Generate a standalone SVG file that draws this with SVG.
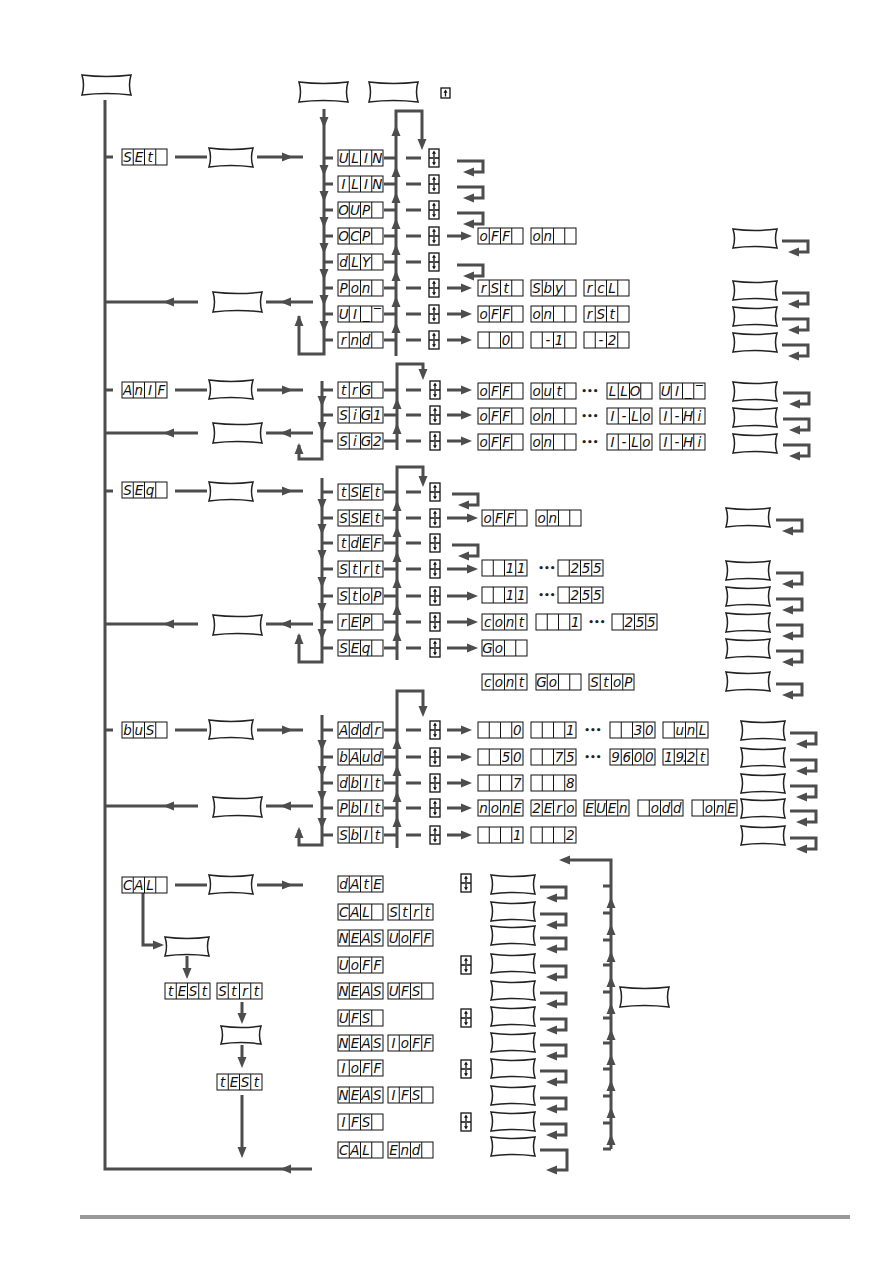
<svg xmlns="http://www.w3.org/2000/svg" width="893" height="1263" viewBox="0 0 893 1263">
<style>
.ln{fill:none;stroke:#4d4d4d;stroke-width:3}
.ah{fill:#4d4d4d}
.bt{fill:#fff;stroke:#222;stroke-width:1.5}
.dc{fill:#fff;stroke:#111;stroke-width:1}
.sg{font-family:"DejaVu Sans","Liberation Sans",sans-serif;font-style:italic;font-size:13.5px;fill:#111;text-anchor:middle}
.dt{font-family:"DejaVu Sans","Liberation Sans",sans-serif;font-size:9px;font-weight:bold;fill:#222;text-anchor:middle}
</style>
<defs>
<path id="b44" class="bt" d="M0,0 Q22,3 44,0 Q41,9.5 44,19 Q22,16 0,19 Q3,9.5 0,0Z"/>
<path id="b49" class="bt" d="M0,0 Q24.5,3 49,0 Q46,10 49,20 Q24.5,17 0,20 Q3,10 0,0Z"/>
<path id="b40" class="bt" d="M0,0 Q20,3 40,0 Q37,9 40,18 Q20,15 0,18 Q3,9 0,0Z"/>
<g id="d4"><rect class="dc" width="45" height="16"/><path class="dc" d="M11.25,0V16M22.5,0V16M33.75,0V16"/></g>
<path id="tR" class="ah" d="M0,0 L-11,-4.5 L-11,4.5Z"/>
<path id="tL" class="ah" d="M0,0 L11,-4.5 L11,4.5Z"/>
<path id="tD" class="ah" d="M0,0 L-4.5,-11 L4.5,-11Z"/>
<path id="tU" class="ah" d="M0,0 L-4.5,11 L4.5,11Z"/>
<g id="hk"><path class="ln" d="M0,0H26V11H17"/><use href="#tL" x="6" y="11"/></g>
<g id="ud"><rect width="10" height="18" fill="#fff" stroke="#111" stroke-width="1.3"/><path d="M0,9H10M5,3V8M5,10V15" stroke="#111" stroke-width="1.3"/><path d="M5,1.5L3,4.8H7Z M5,16.5L3,13.2H7Z" fill="#111"/></g>
</defs>
<rect width="893" height="1263" fill="#fff"/>

<g id="connectors">
<path class="ln" d="M105,100V1169H312 M105,157H113 M105,390H113 M105,491H113 M105,730H113"/>
<use href="#tL" x="280" y="1169"/>
<!-- SET -->
<path class="ln" d="M175,157H207 M257,157H303 M324,109V354H299V316 M396,356V111H422V140
M324,158H333 M324,184H333 M324,210H333 M324,236H333 M324,262H333 M324,288H333 M324,314H333 M324,340H333
M384,158H396 M384,184H396 M384,210H396 M384,236H396 M384,262H396 M384,288H396 M384,314H396 M384,340H396
M406,158H421 M406,184H421 M406,210H421 M406,236H421 M406,262H421 M406,288H421 M406,314H421 M406,340H421
M447,236H466 M447,288H466 M447,314H466 M447,340H466
M313,302H266 M198,302H105"/>
<use href="#tR" x="293" y="157"/><use href="#tU" x="299" y="315"/><use href="#tD" x="422" y="150"/>
<use href="#tD" x="324" y="128"/><use href="#tD" x="324" y="176"/><use href="#tD" x="324" y="202"/><use href="#tD" x="324" y="228"/><use href="#tD" x="324" y="254"/><use href="#tD" x="324" y="280"/><use href="#tD" x="324" y="306"/><use href="#tD" x="324" y="332"/>
<use href="#tU" x="396" y="125"/><use href="#tU" x="396" y="166"/><use href="#tU" x="396" y="192"/><use href="#tU" x="396" y="218"/><use href="#tU" x="396" y="244"/><use href="#tU" x="396" y="270"/><use href="#tU" x="396" y="296"/><use href="#tU" x="396" y="322"/>
<use href="#tR" x="472" y="236"/><use href="#tR" x="472" y="288"/><use href="#tR" x="472" y="314"/><use href="#tR" x="472" y="340"/>
<use href="#tL" x="280" y="302"/><use href="#tL" x="163" y="302"/>
<use href="#hk" x="457" y="161"/><use href="#hk" x="457" y="187"/><use href="#hk" x="457" y="213"/><use href="#hk" x="457" y="265"/>
<use href="#hk" x="782" y="241"/><use href="#hk" x="782" y="293"/><use href="#hk" x="782" y="319"/><use href="#hk" x="782" y="345"/>
<!-- AnIF -->
<path class="ln" d="M175,390H207 M257,390H303 M322,381V459H299V445 M397,450V364H423V370
M322,390H333 M322,415H333 M322,441H333 M384,390H397 M384,415H397 M384,441H397
M406,390H421 M406,415H421 M406,441H421 M447,390H466 M447,415H466 M447,441H466
M313,433H266 M198,433H105"/>
<use href="#tR" x="293" y="390"/><use href="#tU" x="299" y="443"/><use href="#tD" x="423" y="380"/>
<use href="#tD" x="322" y="407"/><use href="#tD" x="322" y="433"/>
<use href="#tU" x="397" y="398"/><use href="#tU" x="397" y="423"/>
<use href="#tR" x="472" y="390"/><use href="#tR" x="472" y="415"/><use href="#tR" x="472" y="441"/>
<use href="#tL" x="280" y="433"/><use href="#tL" x="163" y="433"/>
<use href="#hk" x="783" y="393"/><use href="#hk" x="783" y="419"/><use href="#hk" x="783" y="445"/>
<!-- SEQ -->
<path class="ln" d="M175,491H207 M257,491H303 M322,478V662H299V635 M397,660V467H423V477
M322,492H333 M322,518H333 M322,543H333 M322,569H333 M322,596H333 M322,622H333 M322,648H333
M384,492H397 M384,518H397 M384,543H397 M384,569H397 M384,596H397 M384,622H397 M384,648H397
M406,492H421 M406,518H421 M406,543H421 M406,569H421 M406,596H421 M406,622H421 M406,648H421
M447,518H472 M447,569H472 M447,596H472 M447,622H472 M447,648H472
M313,624H266 M198,624H105"/>
<use href="#tR" x="293" y="491"/><use href="#tU" x="299" y="633"/><use href="#tD" x="423" y="487"/>
<use href="#tD" x="322" y="510"/><use href="#tD" x="322" y="535"/><use href="#tD" x="322" y="561"/><use href="#tD" x="322" y="588"/><use href="#tD" x="322" y="614"/><use href="#tD" x="322" y="640"/>
<use href="#tU" x="397" y="500"/><use href="#tU" x="397" y="526"/><use href="#tU" x="397" y="551"/><use href="#tU" x="397" y="577"/><use href="#tU" x="397" y="604"/><use href="#tU" x="397" y="630"/>
<use href="#tR" x="478" y="518"/><use href="#tR" x="478" y="569"/><use href="#tR" x="478" y="596"/><use href="#tR" x="478" y="622"/><use href="#tR" x="478" y="648"/>
<use href="#tL" x="280" y="624"/><use href="#tL" x="163" y="624"/>
<use href="#hk" x="452" y="494"/><use href="#hk" x="452" y="545"/>
<use href="#hk" x="776" y="520"/><use href="#hk" x="776" y="573"/><use href="#hk" x="776" y="599"/><use href="#hk" x="776" y="625"/><use href="#hk" x="776" y="651"/><use href="#hk" x="776" y="684"/>
<!-- bus -->
<path class="ln" d="M175,730H207 M257,730H303 M322,715V845H299V830 M397,848V691H423V707
M322,730H333 M322,757H333 M322,783H333 M322,808H333 M322,835H333
M384,730H397 M384,757H397 M384,783H397 M384,808H397 M384,835H397
M406,730H421 M406,757H421 M406,783H421 M406,808H421 M406,835H421
M447,730H466 M447,757H466 M447,783H466 M447,808H466 M447,835H466
M313,806H266 M198,806H105"/>
<use href="#tR" x="293" y="730"/><use href="#tU" x="299" y="827"/><use href="#tD" x="423" y="717"/>
<use href="#tD" x="322" y="751"/><use href="#tD" x="322" y="777"/><use href="#tD" x="322" y="802"/><use href="#tD" x="322" y="829"/>
<use href="#tU" x="397" y="738"/><use href="#tU" x="397" y="765"/><use href="#tU" x="397" y="791"/><use href="#tU" x="397" y="816"/>
<use href="#tR" x="472" y="730"/><use href="#tR" x="472" y="757"/><use href="#tR" x="472" y="783"/><use href="#tR" x="472" y="808"/><use href="#tR" x="472" y="835"/>
<use href="#tL" x="280" y="806"/><use href="#tL" x="163" y="806"/>
<use href="#hk" x="790" y="733"/><use href="#hk" x="790" y="760"/><use href="#hk" x="790" y="786"/><use href="#hk" x="790" y="811"/><use href="#hk" x="790" y="838"/>
<!-- CAL -->
<path class="ln" d="M175,885H207 M257,885H303 M143,893V945H153 M187,956V968 M242,1002V1013 M242,1045V1057 M242,1095V1148
M611,1149V860H569 M603,1149H611 M603,886H611 M603,913H611 M603,940H611 M603,965H611 M603,992H611 M603,1018H611 M603,1043H611 M603,1069H611 M603,1096H611 M603,1123H611
M540,1150H567V1170H557"/>
<use href="#tR" x="293" y="885"/><use href="#tR" x="164" y="945"/><use href="#tD" x="187" y="979"/><use href="#tD" x="242" y="1024"/><use href="#tD" x="242" y="1068"/><use href="#tD" x="242" y="1158"/>
<use href="#tL" x="559" y="860"/><use href="#tL" x="546" y="1170"/>
<use href="#tU" x="611" y="897"/><use href="#tU" x="611" y="924"/><use href="#tU" x="611" y="951"/><use href="#tU" x="611" y="976"/><use href="#tU" x="611" y="1003"/><use href="#tU" x="611" y="1029"/><use href="#tU" x="611" y="1054"/><use href="#tU" x="611" y="1080"/><use href="#tU" x="611" y="1107"/><use href="#tU" x="611" y="1134"/>
<use href="#hk" x="540" y="887"/><use href="#hk" x="540" y="914"/><use href="#hk" x="540" y="938"/><use href="#hk" x="540" y="966"/><use href="#hk" x="540" y="993"/><use href="#hk" x="540" y="1019"/><use href="#hk" x="540" y="1045"/><use href="#hk" x="540" y="1071"/><use href="#hk" x="540" y="1098"/><use href="#hk" x="540" y="1124"/>
</g>

<g id="nodes">
<g id="btn-top-left"><use href="#b49" x="82" y="75"/></g>
<g id="btn-top-1"><use href="#b49" x="299" y="82"/></g>
<g id="btn-top-2"><use href="#b49" x="369" y="82"/></g>
<g id="key-up" transform="translate(441,88)"><rect width="9" height="10" fill="#fff" stroke="#111" stroke-width="1.3"/><path d="M4.5,4V8.5" stroke="#111" stroke-width="1.3"/><path d="M4.5,1.5L2.5,4.8H6.5Z" fill="#111"/></g>

<!-- SET -->
<g id="d-set" transform="translate(122,149)"><use href="#d4"/><text class="sg" x="5.6 16.9 28.1" y="13">SEt</text></g>
<g id="btn-set-in"><use href="#b44" x="209" y="148"/></g>
<g id="btn-set-out"><use href="#b49" x="213" y="292"/></g>
<g id="d-ulin" transform="translate(338,150)"><use href="#d4"/><text class="sg" x="5.6 16.9 28.1 39.4" y="13">ULIN</text></g>
<g id="d-ilin" transform="translate(338,176)"><use href="#d4"/><text class="sg" x="5.6 16.9 28.1 39.4" y="13">ILIN</text></g>
<g id="d-oup" transform="translate(338,202)"><use href="#d4"/><text class="sg" x="5.6 16.9 28.1" y="13">OUP</text></g>
<g id="d-ocp" transform="translate(338,228)"><use href="#d4"/><text class="sg" x="5.6 16.9 28.1" y="13">OCP</text></g>
<g id="d-dly" transform="translate(338,254)"><use href="#d4"/><text class="sg" x="5.6 16.9 28.1" y="13">dLY</text></g>
<g id="d-pon" transform="translate(338,280)"><use href="#d4"/><text class="sg" x="5.6 16.9 28.1" y="13">Pon</text></g>
<g id="d-uil" transform="translate(338,306)"><use href="#d4"/><text class="sg" x="5.6 16.9 28.1 39.4" y="13">UI_‾</text></g>
<g id="d-rnd" transform="translate(338,332)"><use href="#d4"/><text class="sg" x="5.6 16.9 28.1" y="13">rnd</text></g>
<g id="k-set"><use href="#ud" x="429" y="149"/><use href="#ud" x="429" y="175"/><use href="#ud" x="429" y="201"/><use href="#ud" x="429" y="227"/><use href="#ud" x="429" y="253"/><use href="#ud" x="429" y="279"/><use href="#ud" x="429" y="305"/><use href="#ud" x="429" y="331"/></g>
<g id="o-ocp-1" transform="translate(478,228)"><use href="#d4"/><text class="sg" x="5.6 16.9 28.1" y="13">oFF</text></g>
<g id="o-ocp-2" transform="translate(531,228)"><use href="#d4"/><text class="sg" x="5.6 16.9" y="13">on</text></g>
<g id="o-pon-1" transform="translate(478,280)"><use href="#d4"/><text class="sg" x="5.6 16.9 28.1" y="13">rSt</text></g>
<g id="o-pon-2" transform="translate(531,280)"><use href="#d4"/><text class="sg" x="5.6 16.9 28.1" y="13">Sby</text></g>
<g id="o-pon-3" transform="translate(584,280)"><use href="#d4"/><text class="sg" x="5.6 16.9 28.1" y="13">rcL</text></g>
<g id="o-uil-1" transform="translate(478,306)"><use href="#d4"/><text class="sg" x="5.6 16.9 28.1" y="13">oFF</text></g>
<g id="o-uil-2" transform="translate(531,306)"><use href="#d4"/><text class="sg" x="5.6 16.9" y="13">on</text></g>
<g id="o-uil-3" transform="translate(584,306)"><use href="#d4"/><text class="sg" x="5.6 16.9 28.1" y="13">rSt</text></g>
<g id="o-rnd-1" transform="translate(478,332)"><use href="#d4"/><text class="sg" x="28.1" y="13">0</text></g>
<g id="o-rnd-2" transform="translate(531,332)"><use href="#d4"/><text class="sg" x="16.9 28.1" y="13">-1</text></g>
<g id="o-rnd-3" transform="translate(584,332)"><use href="#d4"/><text class="sg" x="16.9 28.1" y="13">-2</text></g>
<g id="btn-set-r"><use href="#b44" x="733" y="229"/><use href="#b44" x="733" y="281"/><use href="#b44" x="733" y="307"/><use href="#b44" x="733" y="333"/></g>

<!-- AnIF -->
<g id="d-anif" transform="translate(122,382)"><use href="#d4"/><text class="sg" x="5.6 16.9 28.1 39.4" y="13">AnIF</text></g>
<g id="btn-anif-in"><use href="#b44" x="209" y="380"/></g>
<g id="btn-anif-out"><use href="#b49" x="213" y="423"/></g>
<g id="d-trg" transform="translate(338,382)"><use href="#d4"/><text class="sg" x="5.6 16.9 28.1" y="13">trG</text></g>
<g id="d-sig1" transform="translate(338,407)"><use href="#d4"/><text class="sg" x="5.6 16.9 28.1 39.4" y="13">SiG1</text></g>
<g id="d-sig2" transform="translate(338,433)"><use href="#d4"/><text class="sg" x="5.6 16.9 28.1 39.4" y="13">SiG2</text></g>
<g id="k-anif"><use href="#ud" x="430" y="381"/><use href="#ud" x="430" y="406"/><use href="#ud" x="430" y="432"/></g>
<g id="o-trg-1" transform="translate(478,383)"><use href="#d4"/><text class="sg" x="5.6 16.9 28.1" y="13">oFF</text></g>
<g id="o-trg-2" transform="translate(531,383)"><use href="#d4"/><text class="sg" x="5.6 16.9 28.1" y="13">out</text></g>
<text class="dt" x="590" y="394">•••</text>
<g id="o-trg-3" transform="translate(607,383)"><use href="#d4"/><text class="sg" x="5.6 16.9 28.1" y="13">LLO</text></g>
<g id="o-trg-4" transform="translate(660,383)"><use href="#d4"/><text class="sg" x="5.6 16.9 28.1 39.4" y="13">UI_‾</text></g>
<g id="o-sig1-1" transform="translate(478,408)"><use href="#d4"/><text class="sg" x="5.6 16.9 28.1" y="13">oFF</text></g>
<g id="o-sig1-2" transform="translate(531,408)"><use href="#d4"/><text class="sg" x="5.6 16.9" y="13">on</text></g>
<text class="dt" x="590" y="419">•••</text>
<g id="o-sig1-3" transform="translate(607,408)"><use href="#d4"/><text class="sg" x="5.6 16.9 28.1 39.4" y="13">I-Lo</text></g>
<g id="o-sig1-4" transform="translate(660,408)"><use href="#d4"/><text class="sg" x="5.6 16.9 28.1 39.4" y="13">I-Hi</text></g>
<g id="o-sig2-1" transform="translate(478,434)"><use href="#d4"/><text class="sg" x="5.6 16.9 28.1" y="13">oFF</text></g>
<g id="o-sig2-2" transform="translate(531,434)"><use href="#d4"/><text class="sg" x="5.6 16.9" y="13">on</text></g>
<text class="dt" x="590" y="445">•••</text>
<g id="o-sig2-3" transform="translate(607,434)"><use href="#d4"/><text class="sg" x="5.6 16.9 28.1 39.4" y="13">I-Lo</text></g>
<g id="o-sig2-4" transform="translate(660,434)"><use href="#d4"/><text class="sg" x="5.6 16.9 28.1 39.4" y="13">I-Hi</text></g>
<g id="btn-anif-r"><use href="#b44" x="733" y="382"/><use href="#b44" x="733" y="408"/><use href="#b44" x="733" y="434"/></g>

<!-- SEQ -->
<g id="d-seq" transform="translate(122,482)"><use href="#d4"/><text class="sg" x="5.6 16.9 28.1" y="13">SEq</text></g>
<g id="btn-seq-in"><use href="#b44" x="209" y="482"/></g>
<g id="btn-seq-out"><use href="#b49" x="213" y="615"/></g>
<g id="d-tset" transform="translate(338,484)"><use href="#d4"/><text class="sg" x="5.6 16.9 28.1 39.4" y="13">tSEt</text></g>
<g id="d-sset" transform="translate(338,510)"><use href="#d4"/><text class="sg" x="5.6 16.9 28.1 39.4" y="13">SSEt</text></g>
<g id="d-tdef" transform="translate(338,535)"><use href="#d4"/><text class="sg" x="5.6 16.9 28.1 39.4" y="13">tdEF</text></g>
<g id="d-strt" transform="translate(338,561)"><use href="#d4"/><text class="sg" x="5.6 16.9 28.1 39.4" y="13">Strt</text></g>
<g id="d-stop" transform="translate(338,588)"><use href="#d4"/><text class="sg" x="5.6 16.9 28.1 39.4" y="13">StoP</text></g>
<g id="d-rep" transform="translate(338,614)"><use href="#d4"/><text class="sg" x="5.6 16.9 28.1" y="13">rEP</text></g>
<g id="d-seq2" transform="translate(338,640)"><use href="#d4"/><text class="sg" x="5.6 16.9 28.1" y="13">SEq</text></g>
<g id="k-seq"><use href="#ud" x="430" y="483"/><use href="#ud" x="430" y="509"/><use href="#ud" x="430" y="534"/><use href="#ud" x="430" y="560"/><use href="#ud" x="430" y="587"/><use href="#ud" x="430" y="613"/><use href="#ud" x="430" y="639"/></g>
<g id="o-sset-1" transform="translate(482,510)"><use href="#d4"/><text class="sg" x="5.6 16.9 28.1" y="13">oFF</text></g>
<g id="o-sset-2" transform="translate(536,510)"><use href="#d4"/><text class="sg" x="5.6 16.9" y="13">on</text></g>
<g id="o-strt-1" transform="translate(482,560)"><use href="#d4"/><text class="sg" x="28.1 39.4" y="13">11</text></g>
<text class="dt" x="547" y="571">•••</text>
<g id="o-strt-2" transform="translate(558,560)"><use href="#d4"/><text class="sg" x="16.9 28.1 39.4" y="13">255</text></g>
<g id="o-stop-1" transform="translate(482,587)"><use href="#d4"/><text class="sg" x="28.1 39.4" y="13">11</text></g>
<text class="dt" x="547" y="598">•••</text>
<g id="o-stop-2" transform="translate(558,587)"><use href="#d4"/><text class="sg" x="16.9 28.1 39.4" y="13">255</text></g>
<g id="o-rep-1" transform="translate(482,614)"><use href="#d4"/><text class="sg" x="5.6 16.9 28.1 39.4" y="13">cont</text></g>
<g id="o-rep-2" transform="translate(536,614)"><use href="#d4"/><text class="sg" x="39.4" y="13">1</text></g>
<text class="dt" x="597" y="625">•••</text>
<g id="o-rep-3" transform="translate(612,614)"><use href="#d4"/><text class="sg" x="16.9 28.1 39.4" y="13">255</text></g>
<g id="o-seq-1" transform="translate(482,640)"><use href="#d4"/><text class="sg" x="5.6 16.9" y="13">Go</text></g>
<g id="o-run-1" transform="translate(482,674)"><use href="#d4"/><text class="sg" x="5.6 16.9 28.1 39.4" y="13">cont</text></g>
<g id="o-run-2" transform="translate(536,674)"><use href="#d4"/><text class="sg" x="5.6 16.9" y="13">Go</text></g>
<g id="o-run-3" transform="translate(589,674)"><use href="#d4"/><text class="sg" x="5.6 16.9 28.1 39.4" y="13">StoP</text></g>
<g id="btn-seq-r"><use href="#b44" x="726" y="508"/><use href="#b44" x="726" y="561"/><use href="#b44" x="726" y="587"/><use href="#b44" x="726" y="613"/><use href="#b44" x="726" y="639"/><use href="#b44" x="726" y="672"/></g>

<!-- bus -->
<g id="d-bus" transform="translate(122,722)"><use href="#d4"/><text class="sg" x="5.6 16.9 28.1" y="13">buS</text></g>
<g id="btn-bus-in"><use href="#b44" x="209" y="720"/></g>
<g id="btn-bus-out"><use href="#b49" x="213" y="797"/></g>
<g id="d-addr" transform="translate(338,722)"><use href="#d4"/><text class="sg" x="5.6 16.9 28.1 39.4" y="13">Addr</text></g>
<g id="d-baud" transform="translate(338,749)"><use href="#d4"/><text class="sg" x="5.6 16.9 28.1 39.4" y="13">bAud</text></g>
<g id="d-dbit" transform="translate(338,775)"><use href="#d4"/><text class="sg" x="5.6 16.9 28.1 39.4" y="13">dbIt</text></g>
<g id="d-pbit" transform="translate(338,800)"><use href="#d4"/><text class="sg" x="5.6 16.9 28.1 39.4" y="13">PbIt</text></g>
<g id="d-sbit" transform="translate(338,827)"><use href="#d4"/><text class="sg" x="5.6 16.9 28.1 39.4" y="13">SbIt</text></g>
<g id="k-bus"><use href="#ud" x="430" y="721"/><use href="#ud" x="430" y="748"/><use href="#ud" x="430" y="774"/><use href="#ud" x="430" y="799"/><use href="#ud" x="430" y="826"/></g>
<g id="o-addr-1" transform="translate(478,722)"><use href="#d4"/><text class="sg" x="39.4" y="13">0</text></g>
<g id="o-addr-2" transform="translate(531,722)"><use href="#d4"/><text class="sg" x="39.4" y="13">1</text></g>
<text class="dt" x="593" y="733">•••</text>
<g id="o-addr-3" transform="translate(610,722)"><use href="#d4"/><text class="sg" x="28.1 39.4" y="13">30</text></g>
<g id="o-addr-4" transform="translate(663,722)"><use href="#d4"/><text class="sg" x="16.9 28.1 39.4" y="13">unL</text></g>
<g id="o-baud-1" transform="translate(478,749)"><use href="#d4"/><text class="sg" x="28.1 39.4" y="13">50</text></g>
<g id="o-baud-2" transform="translate(531,749)"><use href="#d4"/><text class="sg" x="28.1 39.4" y="13">75</text></g>
<text class="dt" x="593" y="760">•••</text>
<g id="o-baud-3" transform="translate(610,749)"><use href="#d4"/><text class="sg" x="5.6 16.9 28.1 39.4" y="13">9600</text></g>
<g id="o-baud-4" transform="translate(663,749)"><use href="#d4"/><text class="sg" x="5.6 16.9 21.8 28.1 39.4" y="13">19.2t</text></g>
<g id="o-dbit-1" transform="translate(478,775)"><use href="#d4"/><text class="sg" x="39.4" y="13">7</text></g>
<g id="o-dbit-2" transform="translate(531,775)"><use href="#d4"/><text class="sg" x="39.4" y="13">8</text></g>
<g id="o-pbit-1" transform="translate(478,800)"><use href="#d4"/><text class="sg" x="5.6 16.9 28.1 39.4" y="13">nonE</text></g>
<g id="o-pbit-2" transform="translate(531,800)"><use href="#d4"/><text class="sg" x="5.6 16.9 28.1 39.4" y="13">2Ero</text></g>
<g id="o-pbit-3" transform="translate(584,800)"><use href="#d4"/><text class="sg" x="5.6 16.9 28.1 39.4" y="13">EUEn</text></g>
<g id="o-pbit-4" transform="translate(638,800)"><use href="#d4"/><text class="sg" x="16.9 28.1 39.4" y="13">odd</text></g>
<g id="o-pbit-5" transform="translate(692,800)"><use href="#d4"/><text class="sg" x="16.9 28.1 39.4" y="13">onE</text></g>
<g id="o-sbit-1" transform="translate(478,827)"><use href="#d4"/><text class="sg" x="39.4" y="13">1</text></g>
<g id="o-sbit-2" transform="translate(531,827)"><use href="#d4"/><text class="sg" x="39.4" y="13">2</text></g>
<g id="btn-bus-r"><use href="#b44" x="741" y="721"/><use href="#b44" x="741" y="748"/><use href="#b44" x="741" y="774"/><use href="#b44" x="741" y="799"/><use href="#b44" x="741" y="826"/></g>

<!-- CAL -->
<g id="d-cal" transform="translate(122,877)"><use href="#d4"/><text class="sg" x="5.6 16.9 28.1" y="13">CAL</text></g>
<g id="btn-cal-in"><use href="#b44" x="209" y="875"/></g>
<g id="btn-test"><use href="#b44" x="165" y="937"/></g>
<g id="d-test-strt" transform="translate(165,983)"><use href="#d4"/><text class="sg" x="5.6 16.9 28.1 39.4" y="13">tESt</text></g>
<g id="d-test-strt-2" transform="translate(217,983)"><use href="#d4"/><text class="sg" x="5.6 16.9 28.1 39.4" y="13">Strt</text></g>
<g id="btn-test-2"><use href="#b40" x="221" y="1026"/></g>
<g id="d-test" transform="translate(217,1074)"><use href="#d4"/><text class="sg" x="5.6 16.9 28.1 39.4" y="13">tESt</text></g>
<g id="c-date" transform="translate(338,876)"><use href="#d4"/><text class="sg" x="5.6 16.9 28.1 39.4" y="13">dAtE</text></g>
<g id="c-calstrt"><g transform="translate(338,904)"><use href="#d4"/><text class="sg" x="5.6 16.9 28.1" y="13">CAL</text></g><g transform="translate(388,904)"><use href="#d4"/><text class="sg" x="5.6 16.9 28.1 39.4" y="13">Strt</text></g></g>
<g id="c-meas-uoff"><g transform="translate(338,930)"><use href="#d4"/><text class="sg" x="5.6 16.9 28.1 39.4" y="13">NEAS</text></g><g transform="translate(388,930)"><use href="#d4"/><text class="sg" x="5.6 16.9 28.1 39.4" y="13">UoFF</text></g></g>
<g id="c-uoff" transform="translate(338,957)"><use href="#d4"/><text class="sg" x="5.6 16.9 28.1 39.4" y="13">UoFF</text></g>
<g id="c-meas-ufs"><g transform="translate(338,983)"><use href="#d4"/><text class="sg" x="5.6 16.9 28.1 39.4" y="13">NEAS</text></g><g transform="translate(388,983)"><use href="#d4"/><text class="sg" x="5.6 16.9 28.1" y="13">UFS</text></g></g>
<g id="c-ufs" transform="translate(338,1010)"><use href="#d4"/><text class="sg" x="5.6 16.9 28.1" y="13">UFS</text></g>
<g id="c-meas-ioff"><g transform="translate(338,1035)"><use href="#d4"/><text class="sg" x="5.6 16.9 28.1 39.4" y="13">NEAS</text></g><g transform="translate(388,1035)"><use href="#d4"/><text class="sg" x="5.6 16.9 28.1 39.4" y="13">IoFF</text></g></g>
<g id="c-ioff" transform="translate(338,1060)"><use href="#d4"/><text class="sg" x="5.6 16.9 28.1 39.4" y="13">IoFF</text></g>
<g id="c-meas-ifs"><g transform="translate(338,1087)"><use href="#d4"/><text class="sg" x="5.6 16.9 28.1 39.4" y="13">NEAS</text></g><g transform="translate(388,1087)"><use href="#d4"/><text class="sg" x="5.6 16.9 28.1" y="13">IFS</text></g></g>
<g id="c-ifs" transform="translate(338,1114)"><use href="#d4"/><text class="sg" x="5.6 16.9 28.1" y="13">IFS</text></g>
<g id="c-calend"><g transform="translate(338,1142)"><use href="#d4"/><text class="sg" x="5.6 16.9 28.1" y="13">CAL</text></g><g transform="translate(388,1142)"><use href="#d4"/><text class="sg" x="5.6 16.9 28.1" y="13">End</text></g></g>
<g id="k-cal"><use href="#ud" x="461" y="874"/><use href="#ud" x="461" y="956"/><use href="#ud" x="461" y="1009"/><use href="#ud" x="461" y="1060"/><use href="#ud" x="461" y="1113"/></g>
<g id="btn-cal-r"><use href="#b44" x="491" y="875"/><use href="#b44" x="491" y="902"/><use href="#b44" x="491" y="926"/><use href="#b44" x="491" y="954"/><use href="#b44" x="491" y="981"/><use href="#b44" x="491" y="1007"/><use href="#b44" x="491" y="1033"/><use href="#b44" x="491" y="1059"/><use href="#b44" x="491" y="1086"/><use href="#b44" x="491" y="1112"/><use href="#b44" x="491" y="1137"/></g>
<g id="btn-cal-exit"><use href="#b49" x="620" y="987"/></g>
</g>
<rect id="footer-rule" x="80" y="1215" width="770" height="4" fill="#999"/>
</svg>
